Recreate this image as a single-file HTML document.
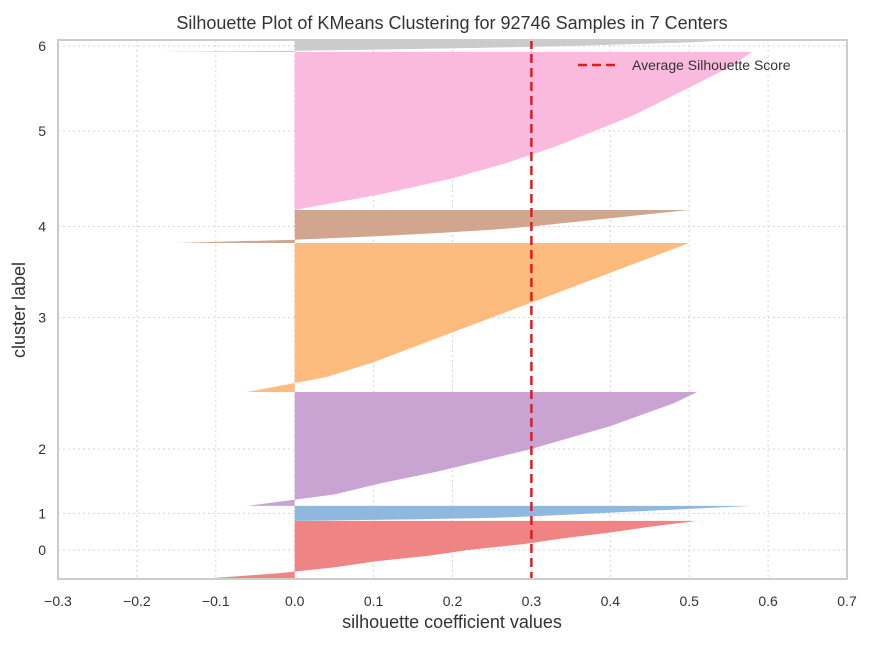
<!DOCTYPE html>
<html><head><meta charset="utf-8"><style>
body{margin:0;background:#fff;font-family:"Liberation Sans",sans-serif}
svg text{font-family:"Liberation Sans",sans-serif}
</style></head><body>
<svg id="chart" width="891" height="653" viewBox="0 0 891 653" xmlns="http://www.w3.org/2000/svg">
<g id="grid"></g>
<g id="marks"></g>
<rect x="58" y="40" width="789" height="539" fill="none" stroke="#cccccc" stroke-width="2"/>
<g id="axes"></g>
<text x="452" y="29" font-size="18" text-anchor="middle" fill="#333">Silhouette Plot of KMeans Clustering for 92746 Samples in 7 Centers</text>
<text x="452" y="628" font-size="18" text-anchor="middle" fill="#333">silhouette coefficient values</text>
<text transform="translate(25,310) rotate(-90)" font-size="18" text-anchor="middle" fill="#333">cluster label</text>
<g>
<line x1="578" y1="65" x2="617" y2="65" stroke="#e8191c" stroke-width="2.5" stroke-dasharray="9,5"/>
<text x="632" y="70" font-size="14" fill="#333">Average Silhouette Score</text>
</g>
</svg>
<script>
const clusterLabels = ["0","1","2","3","4","5","6"];
const clusterSizes = [10000, 2580, 19600, 25640, 5680, 27190, 2060];
const c0 = [-0.12,-0.02,0.05,0.1,0.17,0.22,0.29,0.34,0.4,0.45,0.51];
const c1 = [0.0,0.15,0.25,0.3,0.34,0.38,0.42,0.46,0.5,0.54,0.58];
const c2 = [-0.06,0.05,0.11,0.18,0.24,0.3,0.35,0.4,0.44,0.48,0.51];
const c3 = [-0.06,0.04,0.1,0.15,0.2,0.25,0.3,0.35,0.4,0.45,0.5];
const c4 = [-0.15,0.0,0.1,0.18,0.25,0.3,0.34,0.38,0.42,0.46,0.5];
const c5 = [0.0,0.11,0.2,0.27,0.33,0.38,0.43,0.47,0.51,0.55,0.58];
const c6 = [-0.18,0.0,0.1,0.2,0.28,0.35,0.4,0.45,0.5,0.53,0.56];
const avgScore = 0.3;
const xTicks = [-0.3,-0.2,-0.1,0.0,0.1,0.2,0.3,0.4,0.5,0.6,0.7];
const xTickLabels = ["−0.3","−0.2","−0.1","0.0","0.1","0.2","0.3","0.4","0.5","0.6","0.7"];
const colors = ["#ef8484","#8fb8de","#c9a3d1","#fdbb7e","#d2a68e","#f9badd","#cbcbcb"];

const NS="http://www.w3.org/2000/svg";
const X0=58,X1=847,Y0=40,Y1=579;
const total = clusterSizes.reduce((a,b)=>a+b,0);
const xs = v => X0 + (v+0.3)/1.0*(X1-X0);
const ys = n => Y1 - n/total*(Y1-Y0);
const series=[c0,c1,c2,c3,c4,c5,c6];
const grid=document.getElementById('grid'), marks=document.getElementById('marks'), axes=document.getElementById('axes');
function mk(tag,attrs,parent){const e=document.createElementNS(NS,tag);for(const k in attrs)e.setAttribute(k,attrs[k]);parent.appendChild(e);return e;}

xTicks.forEach((t,i)=>{
  const g=mk('line',{x1:xs(t),x2:xs(t),y1:Y0,y2:Y1,stroke:'#d6d6d6','stroke-dasharray':'2,3'},grid);
  
  
  const tx=mk('text',{x:xs(t),y:606,'font-size':14,'text-anchor':'middle',fill:'#333'},axes);
  tx.textContent=xTickLabels[i];
  
  
});
let cum=0;
series.forEach((vals,ci)=>{
  const yb=ys(cum), yt=ys(cum+clusterSizes[ci]);
  const mid=(yb+yt)/2;
  const gl=mk('line',{x1:X0,x2:X1,y1:mid,y2:mid,stroke:'#d6d6d6','stroke-dasharray':'2,3'},grid);
  
  
  const tl=mk('text',{x:46,y:mid+5,'font-size':14,'text-anchor':'end',fill:'#333'},axes);
  tl.textContent=clusterLabels[ci];
  
  
  const n=vals.length-1;
  let d='M'+xs(0)+','+yb;
  vals.forEach((v,k)=>{const y=yb+(yt-yb)*k/n; d+=' L'+xs(v)+','+y;});
  d+=' L'+xs(0)+','+yt+' Z';
  const p=mk('path',{d:d,fill:colors[ci],stroke:'none'},marks);
  
  
  cum+=clusterSizes[ci];
});
const al=mk('line',{x1:xs(avgScore),x2:xs(avgScore),y1:Y0,y2:Y1,stroke:'#e8191c','stroke-width':2.5,'stroke-dasharray':'9,5'},marks);


</script>
</body></html>
